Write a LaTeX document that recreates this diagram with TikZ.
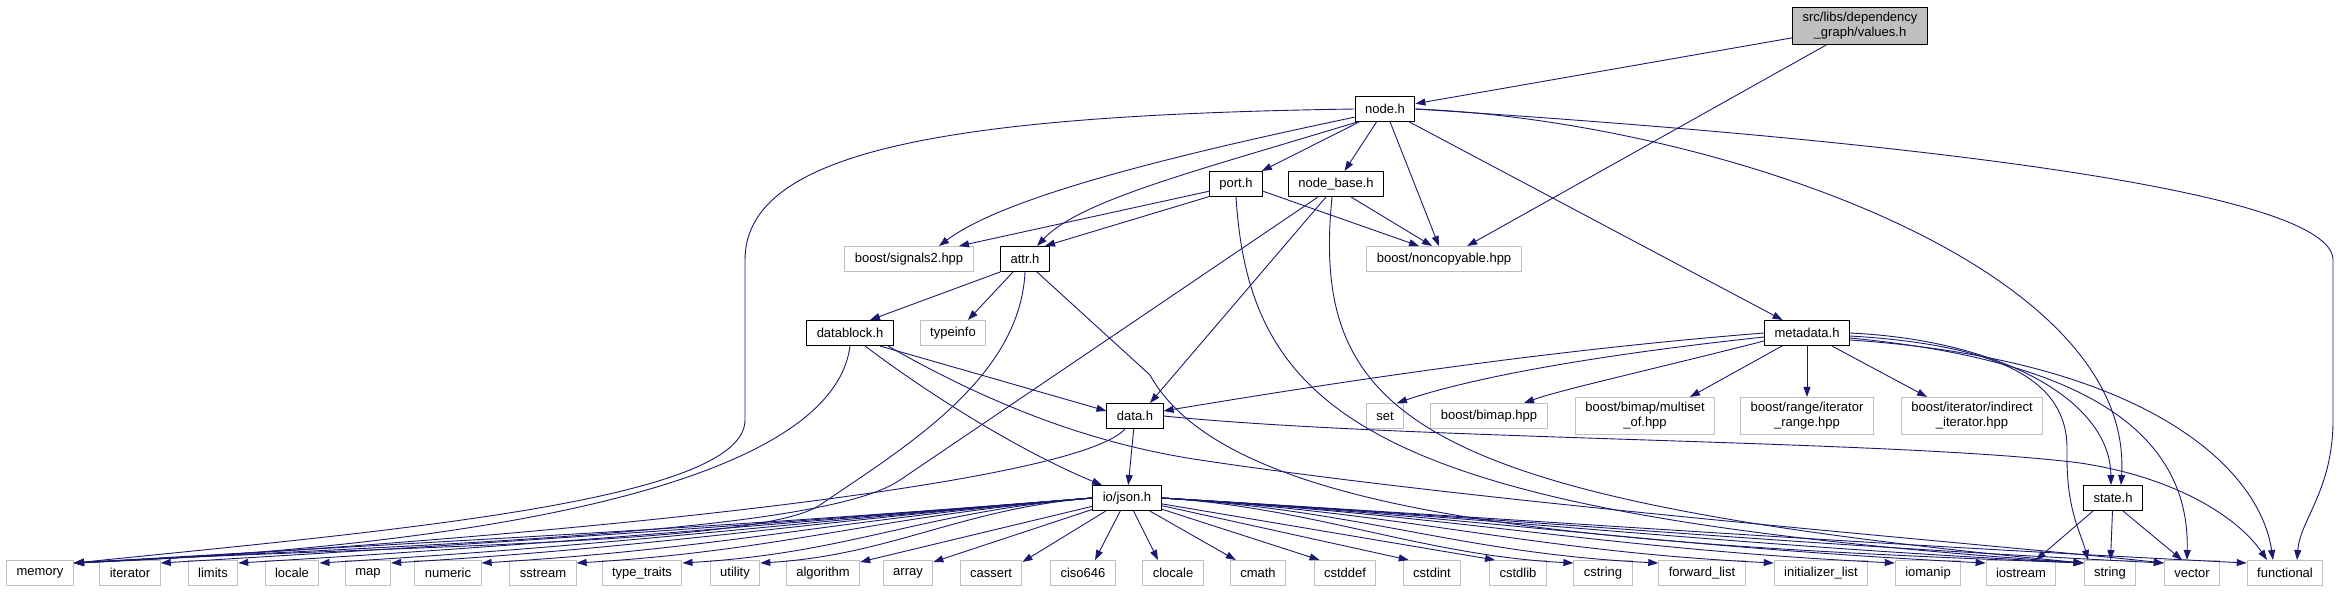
\documentclass[tikz,border=0pt]{standalone}
\usepackage{fontspec}
\setmainfont{Liberation Sans}
\usetikzlibrary{arrows.meta}
\definecolor{edgeblue}{HTML}{191970}
\definecolor{sysgray}{HTML}{BFBFBF}

\begin{document}
\begin{tikzpicture}[x=1pt,y=-1pt,
  hdr/.style={draw=black, line width=1pt, fill=white, minimum height=25pt,
    inner xsep=10pt, inner ysep=5pt, align=center,
    font=\fontsize{13}{15}\selectfont},
  sys/.style={hdr, draw=sysgray},
  dep/.style={draw=edgeblue, line width=0.9pt, -{Triangle[length=10pt,width=7pt]}}]
\useasboundingbox (0,0) rectangle (2339,592);
% headers of the project
\node[hdr,fill=sysgray] (root) at (1860,26) {src/libs/dependency\\\_graph/values.h};
\node[hdr] (nodeh) at (1385,109) {node.h};
\node[hdr] (porth) at (1236,184) {port.h};
\node[hdr] (nodebase) at (1336,184) {node\_base.h};
\node[sys] (signals) at (909,259) {boost/signals2.hpp};
\node[hdr] (attrh) at (1025,259) {attr.h};
\node[sys] (noncopy) at (1444,259) {boost/noncopyable.hpp};
\node[hdr] (datablock) at (850,333) {datablock.h};
\node[sys] (typeinfo) at (953,333) {typeinfo};
\node[hdr] (metadata) at (1807,333) {metadata.h};
\node[hdr] (datah) at (1135,416) {data.h};
\node[sys] (set) at (1385,416) {set};
\node[sys] (bimap) at (1489,416) {boost/bimap.hpp};
\node[sys] (multiset) at (1645,416) {boost/bimap/multiset\\\_of.hpp};
\node[sys] (irange) at (1807,416) {boost/range/iterator\\\_range.hpp};
\node[sys] (indirect) at (1972,416) {boost/iterator/indirect\\\_iterator.hpp};
\node[hdr] (json) at (1127,498) {io/json.h};
\node[hdr] (stateh) at (2113,498) {state.h};
% system headers, bottom row
\foreach \x/\n/\t in {40/memory/memory, 130/iterator/iterator, 213/limits/limits,
    292/locale/locale, 368/map/map, 448/numeric/numeric, 543/sstream/sstream,
    642/typetraits/type\_traits, 735/utility/utility, 823/algorithm/algorithm,
    908/array/array, 991/cassert/cassert, 1083/ciso/ciso646, 1173/clocale/clocale,
    1258/cmath/cmath, 1345/cstddef/cstddef, 1432/cstdint/cstdint, 1518/cstdlib/cstdlib,
    1603/cstring/cstring, 1702/fwdlist/forward\_list, 1821/initlist/initializer\_list,
    1928/iomanip/iomanip, 2021/iostream/iostream, 2110/string/string,
    2192/vector/vector, 2285/functional/functional}
  \node[sys] (\n) at (\x,573) {\t};

% values.h
\draw[dep] (root) -- (nodeh);
\draw[dep] (root) -- (noncopy);
% node.h
\draw[dep] (nodeh.west) .. controls (950,115) and (745,150) .. (745,260) -- (745,420)
  .. controls (745,500) and (400,530) .. ([yshift=-3pt]memory.north east);
\draw[dep] (nodeh.195) .. controls (1150,160) and (1000,200) .. ([xshift=30pt]signals.north);
\draw[dep] (nodeh.205) .. controls (1200,170) and (1080,200) .. ([xshift=12pt]attrh.north);
\draw[dep] (nodeh) -- (porth);
\draw[dep] (nodeh) -- (nodebase);
\draw[dep] (nodeh) -- (noncopy);
\draw[dep] (nodeh) -- (metadata);
\draw[dep] (nodeh.east) .. controls (1700,120) and (2135,260) .. ([xshift=8pt]stateh.north);
\draw[dep] (nodeh.east) .. controls (1900,140) and (2333,190) .. (2333,260) -- (2333,420)
  .. controls (2333,490) and (2300,520) .. ([xshift=12pt]functional.north);
% port.h
\draw[dep] (porth.195) -- ([xshift=50pt]signals.north);
\draw[dep] (porth.205) -- ([xshift=20pt]attrh.north);
\draw[dep] (porth.345) -- ([xshift=-25pt]noncopy.north);
\draw[dep] (porth.south) .. controls (1250,420) and (1380,515) .. ([yshift=-3pt]string.north west);
% node_base.h
\draw[dep] ([xshift=15pt]nodebase.south) -- ([xshift=-12pt]noncopy.north);
\draw[dep] ([xshift=-10pt]nodebase.south) -- ([xshift=15pt]datah.north);
\draw[dep] ([xshift=-18pt]nodebase.south) -- (900,480)
  .. controls (820,535) and (400,545) .. ([yshift=-3pt]memory.north east);
\draw[dep] ([xshift=-4pt]nodebase.south) .. controls (1310,420) and (1420,500) .. ([yshift=-3pt]string.north west);
% attr.h
\draw[dep] (attrh.south west) -- ([xshift=20pt]datablock.north);
\draw[dep] ([xshift=-12pt]attrh.south) -- ([xshift=15pt]typeinfo.north);
\draw[dep] (attrh.south) .. controls (1020,380) and (900,450) .. (820,505)
  .. controls (760,545) and (400,545) .. ([yshift=-3pt]memory.north east);
\draw[dep] ([xshift=12pt]attrh.south) -- (1150,375)
  .. controls (1230,520) and (1600,545) .. ([yshift=-3pt]string.north west);
% datablock.h
\draw[dep] (datablock.south) .. controls (830,500) and (400,550) .. ([yshift=-3pt]memory.north east);
\draw[dep] ([xshift=30pt]datablock.south) -- (datah.170);
\draw[dep] ([xshift=15pt]datablock.south) .. controls (950,410) and (1040,460) .. ([xshift=-25pt]json.north);
\draw[dep] ([xshift=38pt]datablock.south) .. controls (1000,410) and (1100,445) .. (1200,460)
  .. controls (1500,505) and (2000,545) .. ([yshift=-3pt]vector.north west);
% data.h
\draw[dep] (datah) -- (json);
\draw[dep] ([xshift=-10pt]datah.south) .. controls (1070,490) and (450,545) .. ([yshift=-3pt]memory.north east);
\draw[dep] (datah.east) .. controls (1400,440) and (1900,440) .. (2080,463)
  .. controls (2180,478) and (2240,520) .. ([xshift=-18pt]functional.north);
% metadata.h
\draw[dep] (metadata.west) .. controls (1550,350) and (1350,380) .. (datah.10);
\draw[dep] ([yshift=-4pt]metadata.west) .. controls (1550,360) and (1450,385) .. ([xshift=12pt]set.north);
\draw[dep] ([yshift=-8pt]metadata.west) .. controls (1650,370) and (1560,390) .. ([xshift=35pt]bimap.north);
\draw[dep] ([xshift=-25pt]metadata.south) -- ([xshift=45pt]multiset.north);
\draw[dep] (metadata) -- (irange);
\draw[dep] ([xshift=25pt]metadata.south) -- ([xshift=-45pt]indirect.north);
\draw[dep] (metadata.east) .. controls (2000,340) and (2110,400) .. ([xshift=-2pt]stateh.north);
\draw[dep] ([yshift=-3pt]metadata.east) .. controls (2000,345) and (2068,380) .. (2067,450)
  .. controls (2066,510) and (2080,530) .. ([xshift=-22pt]string.north);
\draw[dep] ([yshift=-5pt]metadata.east) .. controls (2080,360) and (2190,430) .. ([xshift=-5pt]vector.north);
\draw[dep] ([yshift=-7pt]metadata.east) .. controls (2150,360) and (2260,470) .. ([xshift=-12pt]functional.north);
% state.h
\draw[dep] ([xshift=-20pt]stateh.south) -- ([xshift=15pt]iostream.north);
\draw[dep] (stateh) -- (string);
\draw[dep] ([xshift=10pt]stateh.south) -- ([xshift=-10pt]vector.north);
% io/json.h
\foreach \n/\a in {memory/400,iterator/370,limits/340,locale/310,map/280,numeric/250,
    sstream/210,typetraits/170,utility/130}
  \draw[dep] (json.west) .. controls +(-\a,{0.08*\a}) and +(\a,{-0.06*\a})
    .. ([yshift=-3pt]\n.north east);
\foreach \n in {algorithm,array,cassert}
  \draw[dep] (json) -- ([yshift=-2pt]\n.north east);
\draw[dep] (json) -- ([xshift=12pt]ciso.north);
\draw[dep] (json) -- ([xshift=-15pt]clocale.north);
\foreach \n in {cmath,cstddef,cstdint,cstdlib}
  \draw[dep] (json) -- ([xshift=6pt]\n.north west);
\foreach \n/\a in {cstring/150,fwdlist/200,initlist/250,iomanip/300,iostream/330,
    string/360,vector/390,functional/420}
  \draw[dep] (json.east) .. controls +(\a,{0.06*\a}) and +(-\a,{-0.05*\a})
    .. ([yshift=-3pt]\n.north west);
\end{tikzpicture}
\end{document}
